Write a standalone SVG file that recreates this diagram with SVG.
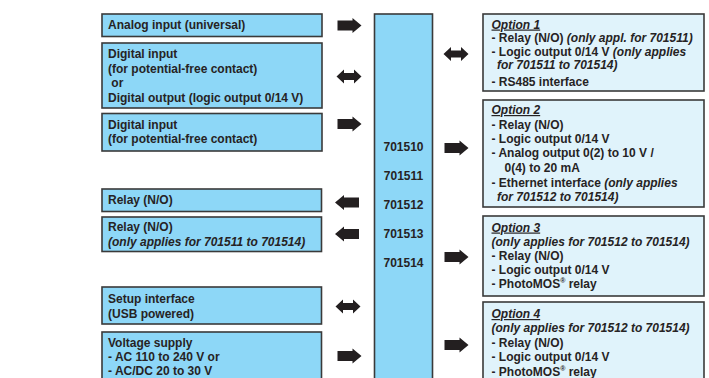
<svg xmlns="http://www.w3.org/2000/svg" width="709" height="378" viewBox="0 0 709 378">
<defs>
<style>
text{font-family:"Liberation Sans",Arial,sans-serif;font-size:12px;font-weight:bold;fill:#262324}
.box{fill:#8dd7f7;stroke:#3a3a3a;stroke-width:1.6}
.opt{fill:#e0f3fb;stroke:#3a3a3a;stroke-width:1.6}
.it{font-style:italic}
.u{text-decoration:underline}
.arr{fill:#231f20}
.num{text-anchor:middle}
</style>
<path id="ar" d="M-12,-5H3V-7.5L12,0L3,7.5V5H-12Z"/>
<path id="al" d="M12,-5H-3V-7.5L-12,0L-3,7.5V5H12Z"/>
<path id="ad" d="M-12.5,0L-5,-7V-3.5H5V-7L12.5,0L5,7V3.5H-5V7Z"/>
</defs>
<rect width="709" height="378" fill="#fff"/>

<g id="analog-input">
<rect class="box" x="102" y="14" width="220" height="22.5"/>
<text x="108" y="29">Analog input (universal)</text>
</g>
<g id="digital-io">
<rect class="box" x="102" y="43" width="220" height="65"/>
<text x="108" y="58">Digital input</text>
<text x="108" y="72.5">(for potential-free contact)</text>
<text x="108" y="87" xml:space="preserve"> or</text>
<text x="108" y="101.5">Digital output (logic output 0/14 V)</text>
</g>
<g id="digital-input">
<rect class="box" x="102" y="113.5" width="220" height="37.5"/>
<text x="108" y="128.5">Digital input</text>
<text x="108" y="143">(for potential-free contact)</text>
</g>
<g id="relay1">
<rect class="box" x="102" y="189" width="219.5" height="22.5"/>
<text x="108" y="204">Relay (N/O)</text>
</g>
<g id="relay2">
<rect class="box" x="102" y="217" width="219.5" height="34.5"/>
<text x="108" y="231">Relay (N/O)</text>
<text x="108" y="245.5" class="it">(only applies for 701511 to 701514)</text>
</g>
<g id="setup">
<rect class="box" x="102" y="287" width="219.5" height="37"/>
<text x="108" y="303">Setup interface</text>
<text x="108" y="317.5">(USB powered)</text>
</g>
<g id="supply">
<rect class="box" x="102" y="332" width="219.5" height="60"/>
<text x="108" y="346.5">Voltage supply</text>
<text x="108" y="360.5">- AC 110 to 240 V or</text>
<text x="108" y="375">- AC/DC 20 to 30 V</text>
</g>

<g id="device">
<rect class="box" x="374.5" y="14" width="58" height="380"/>
<text class="num" x="403.5" y="151">701510</text>
<text class="num" x="403.5" y="180">701511</text>
<text class="num" x="403.5" y="209">701512</text>
<text class="num" x="403.5" y="238">701513</text>
<text class="num" x="403.5" y="267">701514</text>
</g>

<g id="option1">
<rect class="opt" x="483" y="14" width="221" height="77"/>
<text x="491.5" y="28.5" class="it u">Option 1</text>
<text x="491.5" y="42">- Relay (N/O) <tspan class="it">(only appl. for 701511)</tspan></text>
<text x="491.5" y="55.5">- Logic output 0/14 V <tspan class="it">(only applies</tspan></text>
<text x="497" y="69" class="it">for 701511 to 701514)</text>
<text x="491.5" y="86">- RS485 interface</text>
</g>
<g id="option2">
<rect class="opt" x="483" y="100" width="221" height="107"/>
<text x="491.5" y="114" class="it u">Option 2</text>
<text x="491.5" y="129">- Relay (N/O)</text>
<text x="491.5" y="143">- Logic output 0/14 V</text>
<text x="491.5" y="157">- Analog output 0(2) to 10 V /</text>
<text x="504.5" y="172">0(4) to 20 mA</text>
<text x="491.5" y="186.5">- Ethernet interface <tspan class="it">(only applies</tspan></text>
<text x="497" y="200.5" class="it">for 701512 to 701514)</text>
</g>
<g id="option3">
<rect class="opt" x="483" y="216" width="221" height="80"/>
<text x="491.5" y="231.5" class="it u">Option 3</text>
<text x="491.5" y="245.5" class="it">(only applies for 701512 to 701514)</text>
<text x="491.5" y="259.5">- Relay (N/O)</text>
<text x="491.5" y="273.5">- Logic output 0/14 V</text>
<text x="491.5" y="287.5" xml:space="preserve">- PhotoMOS<tspan font-size="7" dy="-4.5">®</tspan><tspan dy="4.5"> relay</tspan></text>
</g>
<g id="option4">
<rect class="opt" x="483" y="302" width="221" height="90"/>
<text x="491.5" y="318" class="it u">Option 4</text>
<text x="491.5" y="332" class="it">(only applies for 701512 to 701514)</text>
<text x="491.5" y="346.5">- Relay (N/O)</text>
<text x="491.5" y="361">- Logic output 0/14 V</text>
<text x="491.5" y="375.5" xml:space="preserve">- PhotoMOS<tspan font-size="7" dy="-4.5">®</tspan><tspan dy="4.5"> relay</tspan></text>
</g>

<g id="connectors" class="arr">
<use href="#ar" x="349.5" y="25.5"/>
<use href="#ad" x="349" y="76.5"/>
<use href="#ar" x="349.5" y="124"/>
<use href="#al" x="347" y="202.5"/>
<use href="#al" x="347" y="234"/>
<use href="#ad" x="348" y="306.5"/>
<use href="#ar" x="349.5" y="356"/>
<use href="#ad" x="456" y="54"/>
<use href="#ar" x="456.5" y="148"/>
<use href="#ar" x="456.5" y="257"/>
<use href="#ar" x="456.5" y="345"/>
</g>
</svg>
